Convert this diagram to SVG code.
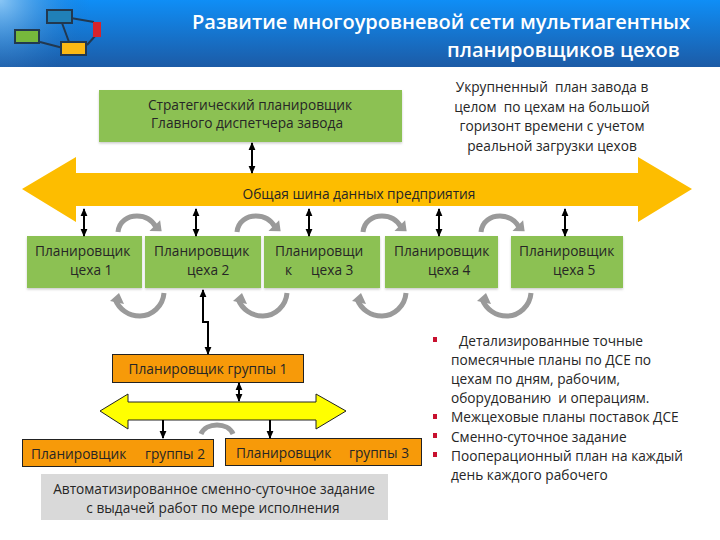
<svg xmlns="http://www.w3.org/2000/svg" xmlns:xlink="http://www.w3.org/1999/xlink" width="720" height="540" viewBox="0 0 720 540">
<style>
text{font-family:"Open Sans","Liberation Sans",sans-serif;font-size:13.7px;fill:#262626;white-space:pre}
.m{text-anchor:middle}
.title{font-size:20px;font-weight:600;fill:#fff}
.g{fill:#8cc152;filter:url(#sh)}
.o{fill:#f79a09;stroke:#222;stroke-width:1}
.ln{fill:none;stroke:#000;stroke-width:2;marker-end:url(#ah)}
.d{marker-start:url(#ah)}
.arc{fill:none;stroke:#9a9a9a;stroke-width:5}
.lg{stroke:#22384f;stroke-width:2}
.b{fill:#c8102e}
</style>
<defs>
<linearGradient id="hd" x1="0" y1="0" x2="0" y2="1"><stop offset="0" stop-color="#0f8ef6"/><stop offset="1" stop-color="#1c5ba6"/></linearGradient>
<radialGradient id="hl" gradientUnits="userSpaceOnUse" cx="0" cy="0" r="90"><stop offset="0" stop-color="#9fd0f5" stop-opacity=".85"/><stop offset="1" stop-color="#1c6fc0" stop-opacity="0"/></radialGradient>
<filter id="sh" x="-5%" y="-5%" width="110%" height="115%"><feDropShadow dx="0" dy="1.5" stdDeviation="1" flood-color="#999" flood-opacity=".5"/></filter>
<marker id="ah" markerWidth="4" markerHeight="4" refX="3.500" refY="2" orient="auto-start-reverse"><path d="M0,.3L4,2L0,3.700z" fill="#000"/></marker>
<g id="top"><path class="arc" d="M118,232C119,221 128,216 137,216C146,216 152,220 156,227"/><path d="M149,230L161,221L161,232z" fill="#9a9a9a" transform="rotate(-8 156 227)"/></g>
<g id="bot"><path class="arc" d="M164,293C163,306 152,316 140,316C128,316 119,309 115,299"/><path d="M110,301L119,293L124,304z" fill="#9a9a9a"/></g>
</defs>

<g id="header">
<rect width="720" height="67" fill="url(#hd)"/>
<rect width="90" height="67" fill="url(#hl)"/>
<path class="lg" d="M59,16L94,22M40,30L20,37M62,23L69,42M40,42L63,48M87,45L96,35" fill="none"/>
<rect class="lg" x="47" y="10" width="25" height="13" fill="#2080b8"/>
<rect class="lg" x="15" y="30" width="24" height="13" fill="#76b83c"/>
<rect class="lg" x="61" y="42" width="25" height="13" fill="#fbb915"/>
<rect x="93" y="22" width="8" height="15" fill="#d8232a"/>
<text class="title" x="192" y="29">Развитие многоуровневой сети мультиагентных</text>
<text class="title" x="447" y="57">планировщиков цехов</text>
</g>

<g id="bus"><path d="M22,189L76,157V173H638V157L692,189L638,222V206H76V222z" fill="#fdbd00"/><text class="m" x="359" y="199">Общая шина данных предприятия</text></g>
<g id="strategic"><rect class="g" x="99" y="90" width="303" height="52"/><text class="m" x="250" y="110">Стратегический планировщик</text><text class="m" x="247" y="128">Главного диспетчера завода</text></g>
<g id="shop1"><rect class="g" x="27" y="236" width="115" height="52"/><text x="35" y="256">Планировщик</text><text x="70" y="275">цеха 1</text></g>
<g id="shop2"><rect class="g" x="145" y="236" width="116" height="52"/><text x="154" y="256">Планировщик</text><text x="187" y="275">цеха 2</text></g>
<g id="shop3"><rect class="g" x="264" y="236" width="116" height="52"/><text x="275" y="256">Планировщи</text><text x="285" y="275">к</text><text x="311" y="275">цеха 3</text></g>
<g id="shop4"><rect class="g" x="385" y="236" width="113" height="52"/><text x="394" y="256">Планировщик</text><text x="428" y="275">цеха 4</text></g>
<g id="shop5"><rect class="g" x="511" y="236" width="112" height="52"/><text x="519" y="256">Планировщик</text><text x="553" y="275">цеха 5</text></g>

<g id="ybus"><path d="M100,411L128,394V402H316V394L346,411L316,429V420H128V429z" fill="#ffff00" stroke="#222"/></g>
<g id="group1"><rect class="o" x="112.500" y="354.500" width="191" height="28"/><text class="m" x="208" y="374">Планировщик группы 1</text></g>
<g id="group2"><rect class="o" x="22.500" y="439.500" width="191" height="27"/><text x="31" y="459">Планировщик</text><text x="145" y="459">группы 2</text></g>
<g id="group3"><rect class="o" x="225.500" y="438.500" width="196" height="27"/><text x="236" y="458">Планировщик</text><text x="349" y="458">группы 3</text></g>
<g id="auto"><rect x="41" y="474" width="347" height="46" fill="#d9d9d9"/><text class="m" x="214" y="494">Автоматизированное сменно-суточное задание</text><text class="m" x="213" y="513">с выдачей работ по мере исполнения</text></g>

<g id="note-top">
<text class="m" x="552" y="92">Укрупненный  план завода в</text>
<text class="m" x="552" y="112">целом  по цехам на большой</text>
<text class="m" x="552" y="131">горизонт времени с учетом</text>
<text class="m" x="552" y="151">реальной загрузки цехов</text>
</g>
<g id="note-bottom">
<rect class="b" x="433" y="337" width="4" height="5"/><rect class="b" x="433" y="414" width="4" height="5"/><rect class="b" x="433" y="433" width="4" height="5"/><rect class="b" x="433" y="452" width="4" height="5"/>
<text x="459" y="346">Детализированные точные</text>
<text x="451" y="365">помесячные планы по ДСЕ по</text>
<text x="451" y="384">цехам по дням, рабочим,</text>
<text x="451" y="403">оборудованию  и операциям.</text>
<text x="451" y="422">Межцеховые планы поставок ДСЕ</text>
<text x="451" y="442">Сменно-суточное задание</text>
<text x="451" y="461">Пооперационный план на каждый</text>
<text x="451" y="480">день каждого рабочего</text>
</g>

<g id="connectors">
<path class="ln d" d="M252,143V173"/>
<path class="ln d" d="M84,209V236"/>
<path class="ln d" d="M196,209V236"/>
<path class="ln d" d="M309,209V236"/>
<path class="ln d" d="M439,209V236"/>
<path class="ln d" d="M565,209V236"/>
<path class="ln d" d="M239,383V401"/>
<path class="ln d" d="M208,354V322H203V290"/>
<path class="ln" d="M163,420V438"/>
<path class="ln" d="M270,420V438"/>
<use xlink:href="#top"/><use xlink:href="#top" x="119"/><use xlink:href="#top" x="245"/><use xlink:href="#top" x="363"/>
<use xlink:href="#bot"/><use xlink:href="#bot" x="123"/><use xlink:href="#bot" x="242"/><use xlink:href="#bot" x="367"/>
<path class="arc" d="M201,434C206,422 228,422 233,434"/>
</g>
</svg>
